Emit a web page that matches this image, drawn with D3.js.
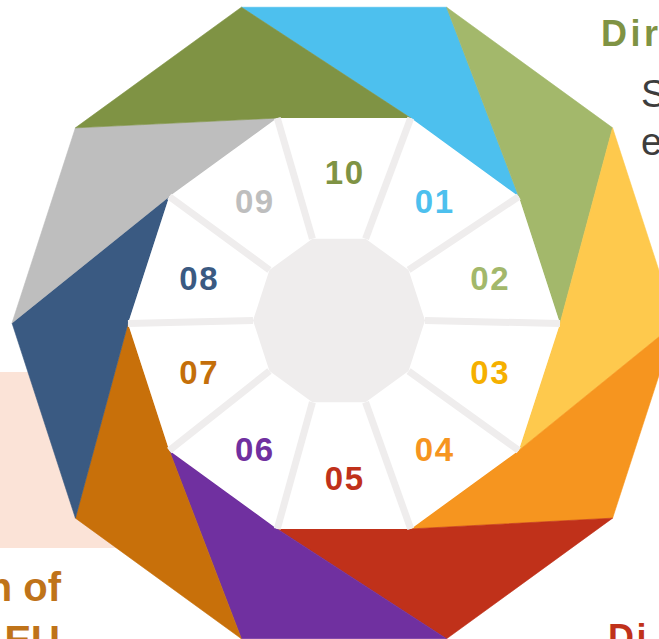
<!DOCTYPE html>
<html>
<head>
<meta charset="utf-8">
<script src="https://cdn.jsdelivr.net/npm/d3@7"></script>
<style>
html,body{margin:0;padding:0;background:#fff;overflow:hidden;}
svg{display:block;}
text{font-family:"Liberation Sans",Arial,sans-serif;}
</style>
</head>
<body>
<svg id="chart" width="659" height="639"></svg>
<script>
// ---- data ----
const categories = ["01","02","03","04","05","06","07","08","09","10"];
const segmentColors = ["#4dc0ee","#a3b86b","#fec94d","#f6951f","#c0311a","#7030a0","#c8700a","#3a5a82","#bebebe","#7f9344"];
const labelColors   = ["#4dc0ee","#a3b86b","#f5b000","#f6951f","#c0311a","#7030a0","#c46f0a","#3a5a82","#bebebe","#7f9344"];

const svg = d3.select("#chart");

// geometry
const outerC = [344, 323], outerR = 332;
const whiteC = [344, 323.5], whiteR = 216;
const greyC  = [339, 320.5], greyR = 86;
const labelR = 153, labelC = [344, 325];

const angle = d3.scaleLinear().domain([0, categories.length]).range([0, 2 * Math.PI]);
const step = angle(1);
const pt = (c, r, a) => { const p = d3.pointRadial(a, r); return [c[0] + p[0], c[1] + p[1]]; };

// background decoration (cropped infographic context)
svg.append("rect").attr("x", -10).attr("y", 372).attr("width", 210).attr("height", 176).attr("fill", "#fbe3d7");

// coloured outer segments
const segs = categories.map((c, i) => {
  const la = angle(i + 1);
  const a = la - 1.5 * step;
  return {
    c, i,
    poly: [pt(outerC, outerR, a), pt(outerC, outerR, a + step), pt(whiteC, whiteR, a + 2 * step), pt(whiteC, whiteR, a + step)]
  };
});
svg.append("g").selectAll("path").data(segs).join("path")
  .attr("d", d => "M" + d.poly.map(p => p.join(",")).join("L") + "Z")
  .attr("fill", d => segmentColors[d.i])
  .attr("stroke", d => segmentColors[d.i]).attr("stroke-width", 0.6);

// white decagon
const verts = (c, r) => d3.range(categories.length).map(k => pt(c, r, angle(k) + step / 2));
svg.append("path")
  .attr("d", "M" + verts(whiteC, whiteR).map(p => p.join(",")).join("L") + "Z")
  .attr("fill", "#ffffff");

// spokes
const wv = verts(whiteC, whiteR), gv = verts(greyC, greyR);
svg.append("g").selectAll("line").data(d3.range(categories.length)).join("line")
  .attr("x1", k => gv[k][0]).attr("y1", k => gv[k][1])
  .attr("x2", k => wv[k][0]).attr("y2", k => wv[k][1])
  .attr("stroke", "#efeded").attr("stroke-width", 7);

// grey inner decagon
svg.append("path")
  .attr("d", "M" + gv.map(p => p.join(",")).join("L") + "Z")
  .attr("fill", "#efeded");

// number labels (baseline placed so digit cap height is centred)
svg.append("g").selectAll("text").data(categories).join("text")
  .attr("x", (d, i) => pt(labelC, labelR, angle(i + 1))[0] + 0.8)
  .attr("y", (d, i) => pt(labelC, labelR, angle(i + 1))[1] + 12)
  .attr("text-anchor", "middle")
  .attr("font-size", 33).attr("font-weight", 700).attr("letter-spacing", 1.6)
  .attr("fill", (d, i) => labelColors[i])
  .text(d => d);

// surrounding text fragments
svg.append("text").attr("x", 601).attr("y", 46).attr("font-size", 36).attr("font-weight", 700).attr("letter-spacing", 3.5).attr("fill", "#7f9344").text("Dir");
svg.append("text").attr("x", 641).attr("y", 107).attr("font-size", 38).attr("fill", "#3d3d3d").text("S");
svg.append("text").attr("x", 641).attr("y", 155).attr("font-size", 38).attr("fill", "#3d3d3d").text("e");
svg.append("text").attr("x", 61).attr("y", 601).attr("text-anchor", "end").attr("font-size", 40).attr("font-weight", 700).attr("fill", "#bf7319").text("n of");
svg.append("text").attr("x", 60).attr("y", 654).attr("text-anchor", "end").attr("font-size", 40).attr("font-weight", 700).attr("fill", "#bf7319").text("EU");
svg.append("text").attr("x", 608).attr("y", 650).attr("font-size", 36).attr("font-weight", 700).attr("letter-spacing", 2.5).attr("fill", "#c0311a").text("Di");
</script>
</body>
</html>
